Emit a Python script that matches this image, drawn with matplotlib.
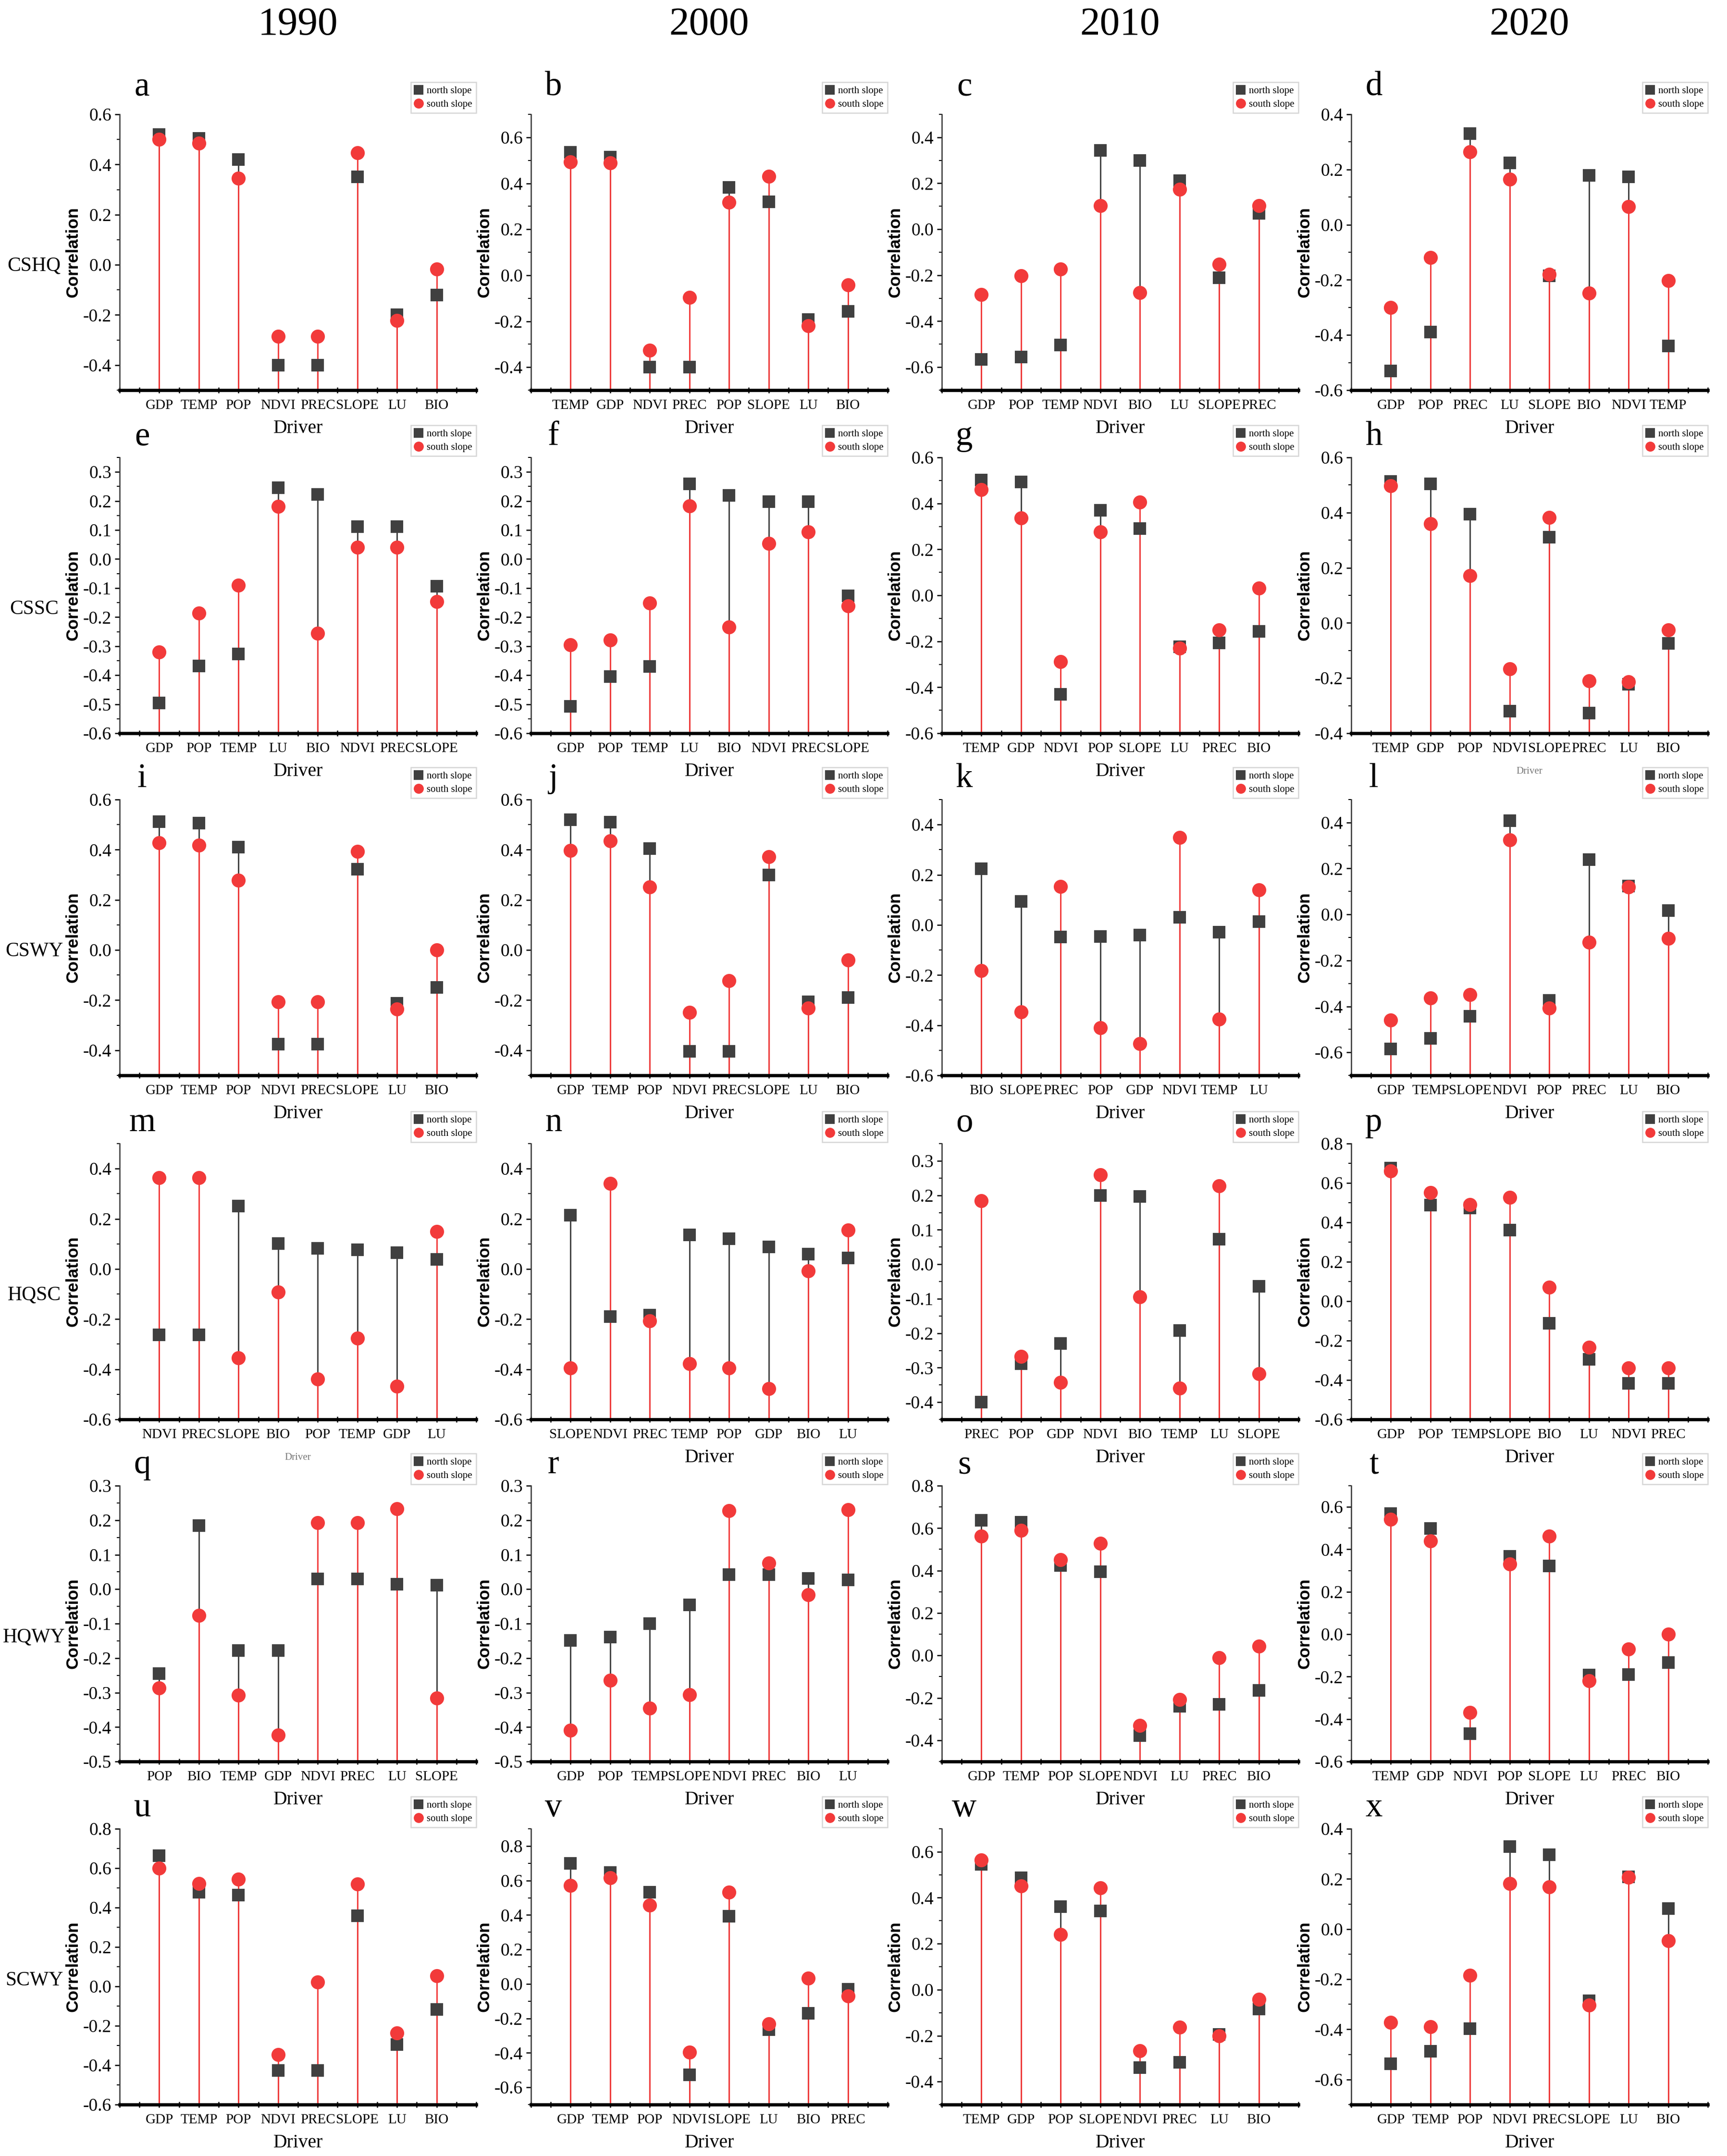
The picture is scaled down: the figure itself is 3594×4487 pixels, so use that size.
import matplotlib
matplotlib.use("Agg")
import matplotlib.pyplot as plt
from matplotlib.ticker import MultipleLocator, FormatStrFormatter
from matplotlib.lines import Line2D

# correlation of each driver with the ecosystem-service pair, north vs south slope
years = ["1990", "2000", "2010", "2020"]
pairs = ["CSHQ", "CSSC", "CSWY", "HQSC", "HQWY", "SCWY"]
letters = list("abcdefghijklmnopqrstuvwx")

drivers = [
    ["GDP", "TEMP", "POP", "NDVI", "PREC", "SLOPE", "LU", "BIO"],
    ["TEMP", "GDP", "NDVI", "PREC", "POP", "SLOPE", "LU", "BIO"],
    ["GDP", "POP", "TEMP", "NDVI", "BIO", "LU", "SLOPE", "PREC"],
    ["GDP", "POP", "PREC", "LU", "SLOPE", "BIO", "NDVI", "TEMP"],
    ["GDP", "POP", "TEMP", "LU", "BIO", "NDVI", "PREC", "SLOPE"],
    ["GDP", "POP", "TEMP", "LU", "BIO", "NDVI", "PREC", "SLOPE"],
    ["TEMP", "GDP", "NDVI", "POP", "SLOPE", "LU", "PREC", "BIO"],
    ["TEMP", "GDP", "POP", "NDVI", "SLOPE", "PREC", "LU", "BIO"],
    ["GDP", "TEMP", "POP", "NDVI", "PREC", "SLOPE", "LU", "BIO"],
    ["GDP", "TEMP", "POP", "NDVI", "PREC", "SLOPE", "LU", "BIO"],
    ["BIO", "SLOPE", "PREC", "POP", "GDP", "NDVI", "TEMP", "LU"],
    ["GDP", "TEMP", "SLOPE", "NDVI", "POP", "PREC", "LU", "BIO"],
    ["NDVI", "PREC", "SLOPE", "BIO", "POP", "TEMP", "GDP", "LU"],
    ["SLOPE", "NDVI", "PREC", "TEMP", "POP", "GDP", "BIO", "LU"],
    ["PREC", "POP", "GDP", "NDVI", "BIO", "TEMP", "LU", "SLOPE"],
    ["GDP", "POP", "TEMP", "SLOPE", "BIO", "LU", "NDVI", "PREC"],
    ["POP", "BIO", "TEMP", "GDP", "NDVI", "PREC", "LU", "SLOPE"],
    ["GDP", "POP", "TEMP", "SLOPE", "NDVI", "PREC", "BIO", "LU"],
    ["GDP", "TEMP", "POP", "SLOPE", "NDVI", "LU", "PREC", "BIO"],
    ["TEMP", "GDP", "NDVI", "POP", "SLOPE", "LU", "PREC", "BIO"],
    ["GDP", "TEMP", "POP", "NDVI", "PREC", "SLOPE", "LU", "BIO"],
    ["GDP", "TEMP", "POP", "NDVI", "SLOPE", "LU", "BIO", "PREC"],
    ["TEMP", "GDP", "POP", "SLOPE", "NDVI", "PREC", "LU", "BIO"],
    ["GDP", "TEMP", "POP", "NDVI", "PREC", "SLOPE", "LU", "BIO"],
]

north = [
    [0.52, 0.505, 0.42, -0.40, -0.40, 0.35, -0.20, -0.12],
    [0.534, 0.514, -0.40, -0.40, 0.382, 0.32, -0.192, -0.158],
    [-0.567, -0.555, -0.504, 0.344, 0.30, 0.212, -0.21, 0.07],
    [-0.53, -0.389, 0.33, 0.224, -0.186, 0.179, 0.174, -0.44],
    [-0.495, -0.368, -0.327, 0.245, 0.223, 0.112, 0.112, -0.093],
    [-0.507, -0.404, -0.37, 0.259, 0.22, 0.197, 0.197, -0.126],
    [0.502, 0.493, -0.43, 0.371, 0.291, -0.223, -0.208, -0.157],
    [0.513, 0.505, 0.394, -0.32, 0.31, -0.327, -0.222, -0.074],
    [0.511, 0.507, 0.41, -0.376, -0.376, 0.322, -0.213, -0.149],
    [0.52, 0.509, 0.405, -0.405, -0.405, 0.299, -0.206, -0.19],
    [0.224, 0.093, -0.049, -0.047, -0.04, 0.031, -0.028, 0.013],
    [-0.585, -0.539, -0.443, 0.408, -0.373, 0.239, 0.123, 0.017],
    [-0.262, -0.262, 0.25, 0.102, 0.082, 0.076, 0.065, 0.038],
    [0.215, -0.189, -0.185, 0.136, 0.12, 0.088, 0.059, 0.043],
    [-0.40, -0.288, -0.23, 0.20, 0.196, -0.192, 0.072, -0.064],
    [0.675, 0.487, 0.473, 0.36, -0.113, -0.295, -0.418, -0.418],
    [-0.245, 0.185, -0.178, -0.178, 0.029, 0.029, 0.014, 0.012],
    [-0.149, -0.139, -0.10, -0.045, 0.042, 0.042, 0.031, 0.027],
    [0.637, 0.627, 0.423, 0.394, -0.377, -0.24, -0.23, -0.164],
    [0.568, 0.499, -0.468, 0.368, 0.322, -0.192, -0.19, -0.134],
    [0.663, 0.478, 0.464, -0.426, -0.426, 0.359, -0.296, -0.117],
    [0.70, 0.647, 0.533, -0.527, 0.393, -0.264, -0.171, -0.031],
    [0.545, 0.487, 0.362, 0.342, -0.338, -0.317, -0.195, -0.085],
    [-0.537, -0.487, -0.397, 0.33, 0.296, -0.286, 0.209, 0.081],
]

south = [
    [0.50, 0.485, 0.345, -0.285, -0.285, 0.447, -0.222, -0.018],
    [0.492, 0.489, -0.327, -0.096, 0.318, 0.43, -0.22, -0.042],
    [-0.285, -0.203, -0.173, 0.103, -0.275, 0.174, -0.153, 0.102],
    [-0.30, -0.12, 0.264, 0.164, -0.181, -0.248, 0.066, -0.203],
    [-0.321, -0.187, -0.091, 0.182, -0.255, 0.04, 0.04, -0.146],
    [-0.296, -0.279, -0.151, 0.183, -0.235, 0.054, 0.093, -0.161],
    [0.46, 0.337, -0.289, 0.277, 0.405, -0.231, -0.15, 0.032],
    [0.497, 0.36, 0.171, -0.166, 0.382, -0.21, -0.214, -0.025],
    [0.427, 0.418, 0.278, -0.206, -0.206, 0.393, -0.235, 0.0],
    [0.396, 0.436, 0.251, -0.248, -0.122, 0.372, -0.231, -0.04],
    [-0.183, -0.347, 0.153, -0.411, -0.473, 0.348, -0.376, 0.14],
    [-0.46, -0.363, -0.349, 0.324, -0.407, -0.12, 0.119, -0.105],
    [0.364, 0.364, -0.355, -0.092, -0.439, -0.277, -0.468, 0.149],
    [-0.394, 0.341, -0.207, -0.377, -0.394, -0.477, -0.007, 0.156],
    [0.184, -0.268, -0.343, 0.26, -0.095, -0.359, 0.228, -0.317],
    [0.662, 0.552, 0.49, 0.526, 0.07, -0.234, -0.339, -0.339],
    [-0.287, -0.077, -0.308, -0.423, 0.193, 0.193, 0.233, -0.316],
    [-0.409, -0.264, -0.345, -0.306, 0.227, 0.075, -0.016, 0.231],
    [0.563, 0.589, 0.452, 0.529, -0.33, -0.208, -0.011, 0.044],
    [0.542, 0.439, -0.37, 0.331, 0.463, -0.219, -0.071, 0.0],
    [0.599, 0.523, 0.543, -0.347, 0.021, 0.52, -0.236, 0.054],
    [0.571, 0.617, 0.457, -0.397, 0.533, -0.233, 0.033, -0.069],
    [0.565, 0.452, 0.24, 0.442, -0.265, -0.163, -0.20, -0.043],
    [-0.373, -0.389, -0.185, 0.181, 0.169, -0.304, 0.206, -0.046],
]

# axis ranges and tick step per panel
y_range = [
    (-0.5, 0.6, 0.2), (-0.5, 0.7, 0.2), (-0.7, 0.5, 0.2), (-0.6, 0.4, 0.2),
    (-0.6, 0.35, 0.1), (-0.6, 0.35, 0.1), (-0.6, 0.6, 0.2), (-0.4, 0.6, 0.2),
    (-0.5, 0.6, 0.2), (-0.5, 0.6, 0.2), (-0.6, 0.5, 0.2), (-0.7, 0.5, 0.2),
    (-0.6, 0.5, 0.2), (-0.6, 0.5, 0.2), (-0.45, 0.35, 0.1), (-0.6, 0.8, 0.2),
    (-0.5, 0.3, 0.1), (-0.5, 0.3, 0.1), (-0.5, 0.8, 0.2), (-0.6, 0.7, 0.2),
    (-0.6, 0.8, 0.2), (-0.7, 0.9, 0.2), (-0.5, 0.7, 0.2), (-0.7, 0.4, 0.2),
]

red = "#f23a3a"
dark = "#404040"
serif = "Liberation Serif"

W, H = 3595, 4487
fig = plt.figure(figsize=(W / 300, H / 300), dpi=300)

lefts = [249, 1105, 1960, 2812]
bottoms = [812, 1526, 2238, 2954, 3666, 4380]
aw, ah = 742, 574

for k in range(24):
    r, c = divmod(k, 4)
    ax = fig.add_axes([lefts[c] / W, 1 - bottoms[r] / H, aw / W, ah / H])
    lo, hi, step = y_range[k]
    x = list(range(1, 9))

    ax.vlines(x, lo, north[k], color=dark, lw=0.7, zorder=1)
    ax.vlines(x, lo, south[k], color=red, lw=0.7, zorder=2)
    ax.plot(x, north[k], "s", color=dark, ms=5.5, ls="none", zorder=3)
    ax.plot(x, south[k], "o", color=red, ms=6, ls="none", zorder=4)

    ax.set_xlim(0, 9)
    ax.set_ylim(lo, hi)
    ax.set_xticks(x)
    ax.set_xticklabels(drivers[k], fontsize=7, family=serif)
    ax.xaxis.set_minor_locator(MultipleLocator(0.5))
    ax.yaxis.set_major_locator(MultipleLocator(step))
    ax.yaxis.set_minor_locator(MultipleLocator(step / 2))
    ax.yaxis.set_major_formatter(FormatStrFormatter("%.1f"))
    for t in ax.get_yticklabels():
        t.set_family(serif)
        t.set_fontsize(9)
    ax.tick_params(axis="x", which="both", direction="inout", length=3, width=0.6, pad=3)
    ax.tick_params(axis="y", which="major", direction="out", length=2.5, width=0.6, pad=1.5)
    ax.tick_params(axis="y", which="minor", direction="out", length=1.5, width=0.5)

    ax.spines["top"].set_visible(False)
    ax.spines["right"].set_visible(False)
    ax.spines["bottom"].set_linewidth(1.6)
    ax.spines["left"].set_linewidth(0.6)
    ax.spines["left"].set_color("#333333")

    ax.set_ylabel("Correlation", fontsize=8.5, family="Liberation Sans", weight="bold")
    ax.yaxis.set_label_coords(-0.108, 0.5)
    if letters[k] in ("h", "m"):
        ax.set_xlabel("Driver", fontsize=5, family=serif, color="#777777", labelpad=6)
    else:
        ax.set_xlabel("Driver", fontsize=9.5, family=serif, labelpad=4)

    ly = 1.10 if r == 0 else 1.075
    ax.text(0.063, ly, letters[k], transform=ax.transAxes, fontsize=17,
            family=serif, va="center", ha="center")

    handles = [Line2D([], [], marker="s", color=dark, ls="none", ms=4),
               Line2D([], [], marker="o", color=red, ls="none", ms=4)]
    leg = ax.legend(handles, ["north slope", "south slope"], loc="lower right",
                    bbox_to_anchor=(1.0, 1.005), prop={"family": serif, "size": 5},
                    frameon=True, fancybox=False, borderpad=0.4, handlelength=0.8,
                    handletextpad=0.4, labelspacing=0.4, borderaxespad=0)
    leg.get_frame().set_edgecolor("#cccccc")
    leg.get_frame().set_linewidth(0.6)

    if c == 0:
        ax.text(-0.24, 0.45, pairs[r], transform=ax.transAxes, fontsize=10,
                family=serif, va="center", ha="center")
    if r == 0:
        ax.text(0.5, 1 + (238 - 52) / ah, years[c], transform=ax.transAxes,
                fontsize=20, family=serif, va="center", ha="center")

fig.savefig("out.png", dpi=300)
